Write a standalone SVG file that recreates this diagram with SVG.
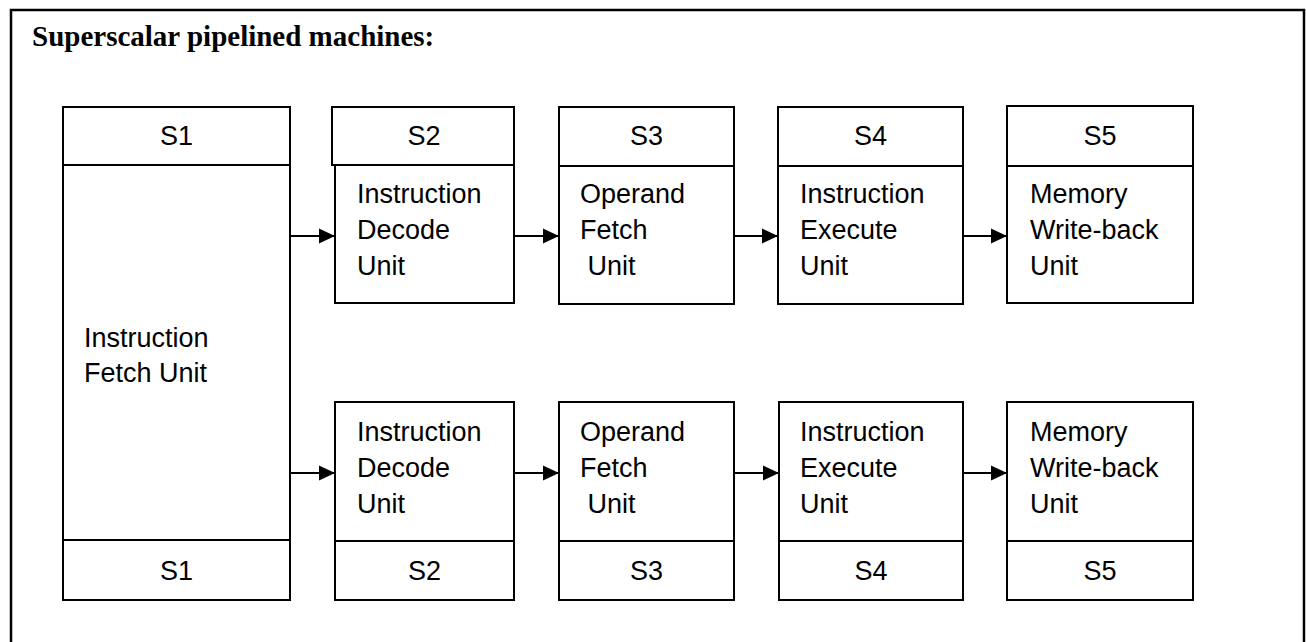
<svg xmlns="http://www.w3.org/2000/svg" width="1306" height="642" viewBox="0 0 1306 642">
  <defs>
    <marker id="arrowhead" markerWidth="16" markerHeight="16" refX="16" refY="8" orient="auto" markerUnits="userSpaceOnUse">
      <path d="M0,0.5 L16,8 L0,15.5 Z" fill="#000"/>
    </marker>
    <style>
      .box { fill: #fff; stroke: #000; stroke-width: 2; }
      .frame { fill: none; stroke: #000; stroke-width: 2.5; }
      .label { font-family: "Liberation Sans", Arial, sans-serif; font-size: 27px; fill: #000; }
      .stage { text-anchor: middle; }
      .title { font-family: "Liberation Serif", "Times New Roman", serif; font-weight: bold; font-size: 29px; fill: #000; }
      .conn { stroke: #000; stroke-width: 2; fill: none; marker-end: url(#arrowhead); }
    </style>
  </defs>

  <rect width="1306" height="642" fill="#fff"/>

  <!-- outer frame, open at the bottom edge -->
  <path class="frame" d="M11,650 V10 H1304 V650"/>

  <text class="title" x="32" y="46">Superscalar pipelined machines:</text>

  <!-- stage S1: instruction fetch shared by both pipes -->
  <g id="fetch">
    <rect class="box" x="63" y="107" width="227" height="58"/>
    <rect class="box" x="63" y="165" width="227" height="375"/>
    <rect class="box" x="63" y="540" width="227" height="60"/>
    <text class="label stage" x="176.5" y="145">S1</text>
    <text class="label" x="84" y="347">Instruction</text>
    <text class="label" x="84" y="382">Fetch Unit</text>
    <text class="label stage" x="176.5" y="580">S1</text>
  </g>

  <!-- upper pipe -->
  <g id="decode-a">
    <rect class="box" x="332" y="107" width="182" height="58"/>
    <rect class="box" x="335" y="165" width="179" height="138"/>
    <text class="label stage" x="424" y="145">S2</text>
    <text class="label" x="357" y="203">Instruction</text>
    <text class="label" x="357" y="239">Decode</text>
    <text class="label" x="357" y="275">Unit</text>
  </g>
  <g id="operand-a">
    <rect class="box" x="559" y="107" width="175" height="59"/>
    <rect class="box" x="559" y="166" width="175" height="138"/>
    <text class="label stage" x="646.5" y="145">S3</text>
    <text class="label" x="580" y="203">Operand</text>
    <text class="label" x="580" y="239">Fetch</text>
    <text class="label" x="580" y="275" xml:space="preserve"> Unit</text>
  </g>
  <g id="execute-a">
    <rect class="box" x="778" y="107" width="185" height="59"/>
    <rect class="box" x="778" y="166" width="185" height="138"/>
    <text class="label stage" x="870.5" y="145">S4</text>
    <text class="label" x="800" y="203">Instruction</text>
    <text class="label" x="800" y="239">Execute</text>
    <text class="label" x="800" y="275">Unit</text>
  </g>
  <g id="writeback-a">
    <rect class="box" x="1007" y="106" width="186" height="60"/>
    <rect class="box" x="1007" y="166" width="186" height="137"/>
    <text class="label stage" x="1100" y="145">S5</text>
    <text class="label" x="1030" y="203">Memory</text>
    <text class="label" x="1030" y="239">Write-back</text>
    <text class="label" x="1030" y="275">Unit</text>
  </g>

  <!-- lower pipe -->
  <g id="decode-b">
    <rect class="box" x="335" y="402" width="179" height="139"/>
    <rect class="box" x="335" y="541" width="179" height="59"/>
    <text class="label" x="357" y="441">Instruction</text>
    <text class="label" x="357" y="477">Decode</text>
    <text class="label" x="357" y="513">Unit</text>
    <text class="label stage" x="424.5" y="580">S2</text>
  </g>
  <g id="operand-b">
    <rect class="box" x="559" y="402" width="175" height="139"/>
    <rect class="box" x="559" y="541" width="175" height="59"/>
    <text class="label" x="580" y="441">Operand</text>
    <text class="label" x="580" y="477">Fetch</text>
    <text class="label" x="580" y="513" xml:space="preserve"> Unit</text>
    <text class="label stage" x="646.5" y="580">S3</text>
  </g>
  <g id="execute-b">
    <rect class="box" x="779" y="402" width="184" height="139"/>
    <rect class="box" x="779" y="541" width="184" height="59"/>
    <text class="label" x="800" y="441">Instruction</text>
    <text class="label" x="800" y="477">Execute</text>
    <text class="label" x="800" y="513">Unit</text>
    <text class="label stage" x="871" y="580">S4</text>
  </g>
  <g id="writeback-b">
    <rect class="box" x="1007" y="402" width="186" height="139"/>
    <rect class="box" x="1007" y="541" width="186" height="59"/>
    <text class="label" x="1030" y="441">Memory</text>
    <text class="label" x="1030" y="477">Write-back</text>
    <text class="label" x="1030" y="513">Unit</text>
    <text class="label stage" x="1100" y="580">S5</text>
  </g>

  <g id="connectors">
    <line class="conn" x1="290" y1="236" x2="335" y2="236"/>
    <line class="conn" x1="514" y1="236" x2="559" y2="236"/>
    <line class="conn" x1="734" y1="236" x2="778" y2="236"/>
    <line class="conn" x1="963" y1="236" x2="1007" y2="236"/>
    <line class="conn" x1="290" y1="473" x2="335" y2="473"/>
    <line class="conn" x1="514" y1="473" x2="559" y2="473"/>
    <line class="conn" x1="734" y1="473" x2="779" y2="473"/>
    <line class="conn" x1="963" y1="473" x2="1007" y2="473"/>
  </g>
</svg>
